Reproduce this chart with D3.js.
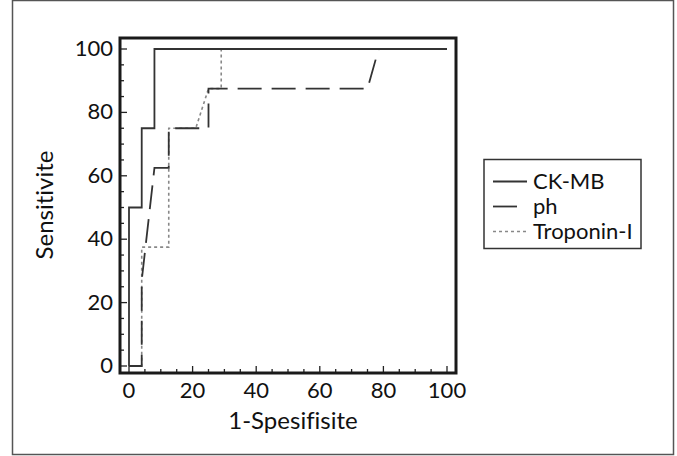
<!DOCTYPE html>
<html><head><meta charset="utf-8">
<script src="https://cdn.jsdelivr.net/npm/d3@7"></script>
<style>
html,body{margin:0;padding:0;background:#fff;}
svg{display:block;}
text{font-family:Lato,"Open Sans",sans-serif;fill:#111;font-variant-ligatures:none;}
</style></head>
<body><svg id="c" width="677" height="456"></svg>
<script>
// Data
const xTicks = [0, 20, 40, 60, 80, 100];
const yTicks = [0, 20, 40, 60, 80, 100];
const seriesNames = ["CK-MB", "ph", "Troponin-I"];
const ckmbX = [0, 0, 4, 4, 8, 8, 100];
const ckmbY = [0, 50, 50, 75, 75, 100, 100];
const phX = [0, 4, 4, 8, 12.5, 12.5, 25, 25, 75, 78.5, 100];
const phY = [0, 0, 27, 62.5, 62.5, 75, 75, 87.5, 87.5, 100, 100];
const tropX = [0, 4, 4, 12.5, 12.5, 21, 25, 29, 29, 100];
const tropY = [0, 0, 37.5, 37.5, 75, 75, 87.5, 87.5, 100, 100];
const xLabel = "1-Spesifisite";
const yLabel = "Sensitivite";

const svg = d3.select("#c");
// outer frame
svg.append("rect").attr("x", 12.5).attr("y", 0.5).attr("width", 661).attr("height", 454)
  .attr("fill", "none").attr("stroke", "#555").attr("stroke-width", 1.5);

const x = d3.scaleLinear().domain([0, 100]).range([129, 447]);
const y = d3.scaleLinear().domain([0, 100]).range([366, 49]);
const fx0 = x.invert(120), fx1 = x.invert(456), fy0 = y.invert(373), fy1 = y.invert(38);

// ticks (inward)
const minor = d3.range(0, 101, 5);
const g = svg.append("g").attr("stroke", "#222").attr("stroke-width", 1.3);
minor.forEach(v => {
  const len = (v % 20 === 0) ? 7 : 4;
  g.append("line").attr("x1", x(v)).attr("x2", x(v)).attr("y1", y(fy0)).attr("y2", y(fy0) - len);
  g.append("line").attr("y1", y(v)).attr("y2", y(v)).attr("x1", x(fx0)).attr("x2", x(fx0) + len);
});

// tick labels
svg.append("g").selectAll("text").data(xTicks).join("text")
  .attr("x", d => x(d)).attr("y", 398).attr("text-anchor", "middle")
  .attr("font-size", 22).text(d => d);
svg.append("g").selectAll("text").data(yTicks).join("text")
  .attr("x", 113).attr("y", d => y(d) + 7).attr("text-anchor", "end")
  .attr("font-size", 22).text(d => d);

svg.append("text").attr("x", 293).attr("y", 429).attr("text-anchor", "middle")
  .attr("font-size", 24).text(xLabel);
svg.append("text").attr("transform", "translate(53,205) rotate(-90)").attr("text-anchor", "middle")
  .attr("font-size", 24).text(yLabel);

const line = d3.line().x(d => x(d[0])).y(d => y(d[1]));
const styles = [
  {color: "#333", dash: null, w: 1.8},
  {color: "#333", dash: "24,10", w: 1.8},
  {color: "#888", dash: "3,3", w: 1.6}
];
const data = [d3.zip(ckmbX, ckmbY), d3.zip(phX, phY), d3.zip(tropX, tropY)];
[2, 1, 0].forEach(i => {
  svg.append("path").attr("d", line(data[i])).attr("fill", "none")
    .attr("stroke", styles[i].color).attr("stroke-width", styles[i].w)
    .attr("stroke-dasharray", styles[i].dash);
});

// plot frame
svg.append("rect").attr("x", x(fx0)).attr("y", y(fy1)).attr("width", x(fx1) - x(fx0)).attr("height", y(fy0) - y(fy1))
  .attr("fill", "none").attr("stroke", "#1a1a1a").attr("stroke-width", 3);

// legend
const lg = svg.append("g");
lg.append("rect").attr("x", 484).attr("y", 159.5).attr("width", 157).attr("height", 89)
  .attr("fill", "#fff").attr("stroke", "#333").attr("stroke-width", 1.5);
const sampleEnd = [527, 518, 528];
seriesNames.forEach((n, i) => {
  const yy = 181.5 + i * 25;
  lg.append("line").attr("x1", 493).attr("x2", sampleEnd[i]).attr("y1", yy).attr("y2", yy)
    .attr("stroke", styles[i].color).attr("stroke-width", styles[i].w)
    .attr("stroke-dasharray", styles[i].dash);
  lg.append("text").attr("x", 533).attr("y", yy + 7.5).attr("font-size", 22).text(n);
});
</script></body></html>
